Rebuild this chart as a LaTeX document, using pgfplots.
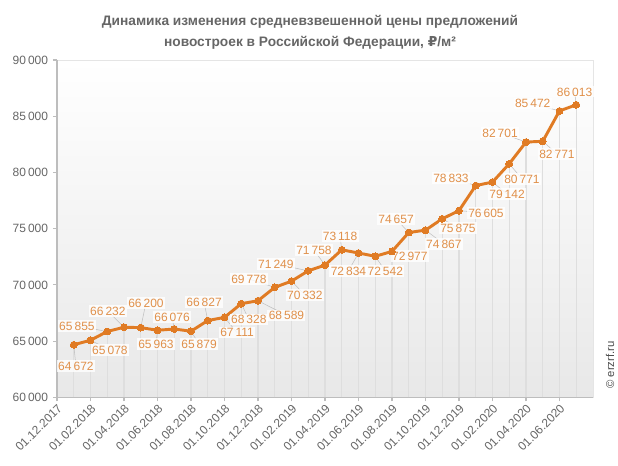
\documentclass[border=0pt]{standalone}
\usepackage{fontspec}
\setmainfont{Liberation Sans}
\newfontfamily\dejavu{DejaVu Sans}
\usepackage{pgfplots}
\pgfplotsset{compat=1.18}
\usepackage{pgfplotstable}
\definecolor{lineor}{HTML}{E07B24}
\definecolor{labor}{HTML}{E0904A}
\definecolor{txtgray}{HTML}{666666}
\definecolor{axgray}{HTML}{BDBDBD}

% x = months after 01.12.2017, y = price; lx/ly = where the value label sits
\pgfplotstableread{
x  y     lx    ly
1  64672 1.13  62785
2  65078 3.16  64208
3  65855 1.19  66344
4  66232 3.04  67678
5  66200 5.31  68390
6  65963 5.91  64742
7  66076 6.87  67144
8  65879 8.48  64742
9  66827 8.78  68479
10 67111 10.75 65750
11 68328 11.45 66950
12 68589 13.70 67300
13 69778 11.46 70525
14 70332 14.80 69102
15 71249 13.07 71860
16 71758 15.34 73105
17 73118 16.90 74351
18 72834 17.40 71237
19 72542 19.60 71237
20 72977 21.07 72571
21 74657 20.24 75863
22 74867 23.10 73639
23 75875 23.94 75063
24 76605 25.61 76397
25 78833 23.52 79511
26 79142 26.87 78088
27 80771 27.76 79423
28 82701 26.45 83515
29 82771 29.85 81646
30 85472 28.40 86100
31 86013 30.90 87161
}\pricedata

\begin{document}
\begin{tikzpicture}[x=1pt,y=1pt]
\useasboundingbox (0,0) rectangle (463.5,349.5);
\begin{axis}[
  at={(42.75pt,51.5pt)}, anchor=south west,
  scale only axis, width=402pt, height=253pt,
  xmin=0, xmax=32, ymin=60000, ymax=90000,
  xtick={0,2,...,30},
  xticklabels={01.12.2017,01.02.2018,01.04.2018,01.06.2018,01.08.2018,
    01.10.2018,01.12.2018,01.02.2019,01.04.2019,01.06.2019,01.08.2019,
    01.10.2019,01.12.2019,01.02.2020,01.04.2020,01.06.2020},
  ytick={60000,65000,70000,75000,80000,85000,90000},
  yticklabels={60\,000,65\,000,70\,000,75\,000,80\,000,85\,000,90\,000},
  scaled y ticks=false,
  axis x line*=bottom, axis y line*=left,
  axis line style={-, axgray, line width=0.8pt},
  tick style={axgray, line width=0.8pt},
  tick align=outside, major tick length=3pt,
  ticklabel style={font=\fontsize{9}{10}\selectfont, text=txtgray},
  xticklabel style={rotate=45, anchor=north east, inner sep=1pt},
  yticklabel style={inner sep=3.5pt},
  axis background/.style={top color=white, bottom color=black!9, draw=black!10},
]
% drop lines
\addplot[ycomb, draw=black!13, line width=1pt, mark=none]
  table[x=x,y=y]{\pricedata};
% leader lines to the labels
\addplot[draw=black!25, line width=0.4pt, -,
  quiver={u=\thisrow{lx}-\thisrow{x}, v=\thisrow{ly}-\thisrow{y}}]
  table[x=x,y=y]{\pricedata};
% value labels
\addplot[only marks, mark=none, point meta=explicit,
  nodes near coords={\pgfmathprintnumber[fixed,precision=0,1000 sep={\,},
    assume math mode=true]{\pgfplotspointmeta}},
  every node near coord/.append style={anchor=center,
    font=\fontsize{9}{10}\selectfont, text=labor,
    fill=white, fill opacity=0.8, text opacity=1, inner sep=1pt}]
  table[x=lx,y=ly,meta=y]{\pricedata};
% price line
\addplot[lineor, line width=2.2pt, line join=round, mark=*, mark size=2.6pt,
  mark options={fill=lineor, draw=lineor, line width=0pt}]
  table[x=x,y=y]{\pricedata};
\end{axis}
\node[align=center, text=txtgray, font=\bfseries\fontsize{10.3}{15.75}\selectfont]
  at (232.5,325) {Динамика изменения средневзвешенной цены предложений\\
  новостроек в Российской Федерации, {\dejavu\bfseries ₽}/м²};
\node[rotate=90, text=black!70, font=\fontsize{8.5}{10}\selectfont]
  at (457.5,75.75) {© erzrf.ru};
\end{tikzpicture}
\end{document}
